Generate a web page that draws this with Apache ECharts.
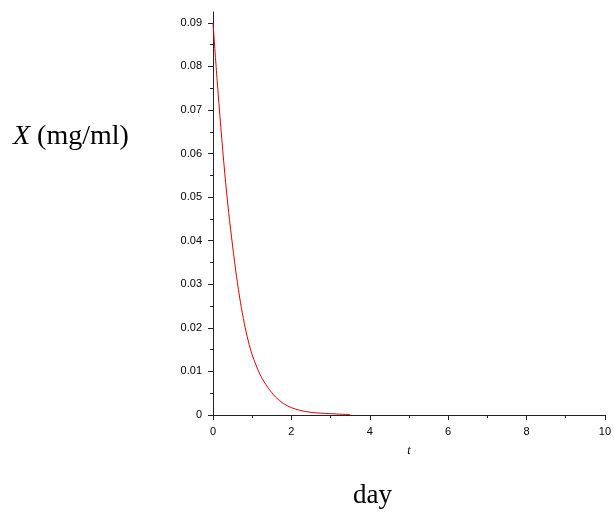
<!DOCTYPE html>
<html>
<head>
<meta charset="utf-8">
<script src="https://cdn.jsdelivr.net/npm/echarts@6/dist/echarts.min.js"></script>
<style>html,body{margin:0;padding:0;background:#fff;}#c{width:614px;height:516px;}</style>
</head>
<body>
<div id="c"></div>
<script>
// Time (days) and concentration X (mg/ml)
var tValues = [0, 0.1, 0.2, 0.3, 0.4, 0.5, 0.6, 0.7, 0.8, 0.9, 1.0, 1.2, 1.4, 1.6, 1.8, 2.0, 2.2, 2.5, 3.0, 3.5];
var xValues = [0.090, 0.0775, 0.066, 0.0555, 0.0465, 0.0388, 0.0318, 0.0259, 0.0210, 0.0170, 0.0138, 0.0093, 0.0063, 0.0041, 0.0026, 0.0017, 0.0011, 0.0006, 0.0003, 0.0001];
var yMajorTicks = [0, 0.01, 0.02, 0.03, 0.04, 0.05, 0.06, 0.07, 0.08, 0.09];
var yMinorTicks = [0.005, 0.015, 0.025, 0.035, 0.045, 0.055, 0.065, 0.075, 0.085];
var xTickLabels = [0, 2, 4, 6, 8, 10];

var chart = echarts.init(document.getElementById('c'), null, {renderer: 'canvas'});
var seriesData = tValues.map(function (t, i) { return [t, xValues[i]]; });
var labelFont = {fontFamily: 'Liberation Sans', fontSize: 11, color: '#000'};

chart.setOption({
  animation: false,
  backgroundColor: '#fff',
  grid: {left: 213, right: 9, top: 12, bottom: 101},
  xAxis: {
    type: 'value', min: 0, max: 10, interval: 2,
    axisLine: {lineStyle: {color: '#222', width: 1}},
    axisTick: {show: true, length: 5, lineStyle: {color: '#222'}},
    minorTick: {show: true, splitNumber: 2, length: 3, lineStyle: {color: '#222'}},
    splitLine: {show: false},
    axisLabel: Object.assign({margin: 11, customValues: xTickLabels}, labelFont),
    name: 't', nameLocation: 'middle', nameGap: 30,
    nameTextStyle: {fontFamily: 'Liberation Serif', fontStyle: 'italic', fontSize: 12, color: '#000'}
  },
  yAxis: [{
    type: 'value', min: 0, max: 0.0925,
    axisLine: {show: true, lineStyle: {color: '#222', width: 1}},
    axisTick: {show: true, length: 5, customValues: yMajorTicks, lineStyle: {color: '#222'}},
    splitLine: {show: false},
    axisLabel: Object.assign({margin: 11, customValues: yMajorTicks,
      formatter: function (v) { return v === 0 ? '0' : v.toFixed(2); }}, labelFont)
  }, {
    type: 'value', min: 0, max: 0.0925, position: 'left', offset: 0,
    axisLine: {show: false},
    axisTick: {show: true, length: 3, customValues: yMinorTicks, lineStyle: {color: '#222'}},
    splitLine: {show: false},
    axisLabel: {show: false}
  }],
  series: [{
    type: 'line', yAxisIndex: 0, data: seriesData, smooth: 0.3, showSymbol: false,
    lineStyle: {color: '#e00000', width: 1}
  }],
  graphic: [{
    type: 'text', left: 13, top: 123,
    style: {
      text: '{i|X} (mg/ml)',
      rich: {i: {fontFamily: 'Liberation Serif', fontStyle: 'italic', fontSize: 28, fill: '#000'}},
      fontFamily: 'Liberation Serif', fontSize: 28, fill: '#000'
    }
  }, {
    type: 'text', left: 353, top: 482,
    style: {text: 'day', fontFamily: 'Liberation Serif', fontSize: 27, fill: '#000'}
  }]
});
</script>
</body>
</html>
